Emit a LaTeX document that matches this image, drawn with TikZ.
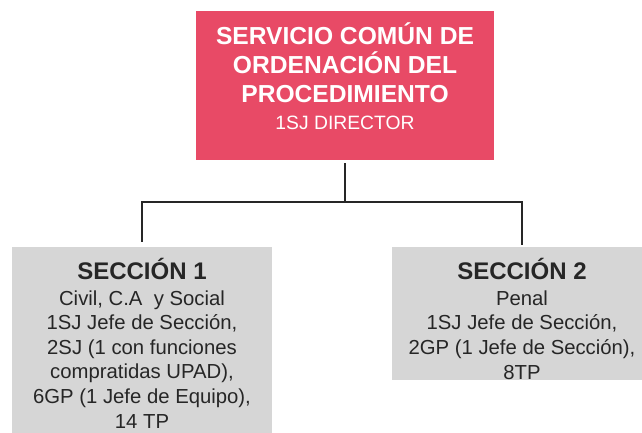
\documentclass[tikz,border=0pt]{standalone}
\usepackage{fontspec}
\setmainfont{Liberation Sans}
\definecolor{rosa}{RGB}{232,74,102}
\definecolor{gris}{RGB}{214,214,214}
\definecolor{tinta}{RGB}{38,38,38}

\begin{document}
\begin{tikzpicture}[x=1pt,y=1pt,
    caja/.style={inner sep=0pt, outer sep=0pt},
    cajarosa/.style={caja, fill=rosa, minimum width=298pt, minimum height=149pt},
    cajagris/.style={caja, fill=gris, minimum width=260pt},
    textorosa/.style={inner sep=0pt, anchor=base, align=center, text=white,
        font=\bfseries\fontsize{24.6}{29.2}\selectfont},
    textogris/.style={inner sep=0pt, anchor=base, align=center, text=tinta,
        font=\fontsize{20.3}{24.6}\selectfont},
    linea/.style={line width=1.4pt, draw=tinta}]

    \useasboundingbox (0,0) rectangle (642,-433);

    % cajas
    \node[cajarosa] (director) at (345,-85.5) {};
    \node[cajagris, minimum height=186pt] (seccion1) at (142,-340) {};
    \node[cajagris, minimum height=133pt] (seccion2) at (522,-313.5) {};

    % textos (anclados en la linea base de la ultima linea)
    \node[textorosa] (directortexto) at (345,-129) {SERVICIO COMÚN DE\\
        ORDENACIÓN DEL\\ PROCEDIMIENTO\\[-2.9pt]
        {\mdseries\fontsize{19.3}{29.2}\selectfont 1SJ DIRECTOR}};
    \node[textogris] (seccion1texto) at (142,-428) {{\bfseries\fontsize{24}{24.6}\selectfont SECCIÓN 1}\\[1.4pt]
        Civil, C.A~~y Social\\ 1SJ Jefe de Sección,\\
        2SJ (1 con funciones\\ compratidas UPAD),\\
        6GP (1 Jefe de Equipo),\\ 14 TP};
    \node[textogris] (seccion2texto) at (522,-379) {{\bfseries\fontsize{24}{24.6}\selectfont SECCIÓN 2}\\[1.4pt]
        Penal\\ 1SJ Jefe de Sección,\\
        2GP (1 Jefe de Sección),\\ 8TP};

    % conectores
    \coordinate (rama) at (345,-202);
    \draw[linea] ([yshift=-3pt]director.south) -- (rama);
    \draw[linea] (rama) -| ([yshift=5pt]seccion1.north);
    \draw[linea] (rama) -| ([yshift=2pt]seccion2.north);
\end{tikzpicture}
\end{document}
